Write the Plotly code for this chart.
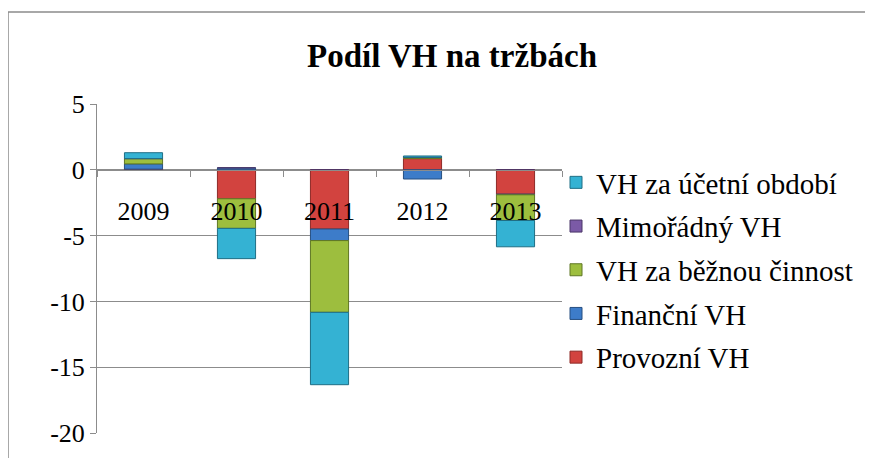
import plotly.graph_objects as go

years = ["2009", "2010", "2011", "2012", "2013"]
series_names = ["Provozní VH", "Finanční VH", "VH za běžnou činnost", "Mimořádný VH", "VH za účetní období"]
provozni = [0.05, -2.2, -4.5, 0.85, -1.85]
financni = [0.4, 0.15, -0.88, -0.7, -0.05]
bezna = [0.4, -2.25, -5.45, 0.1, -1.95]
mimoradny = [0.0, 0.0, 0.0, 0.0, 0.0]
ucetni = [0.45, -2.3, -5.5, 0.1, -2.0]
y_ticks = [5, 0, -5, -10, -15, -20]
y_ticktext = ["5", "0", "-5", "-10", "-15", "-20"]

colors = ["#D2433F", "#3D7CC9", "#9DBE3E", "#7B5AA6", "#34B2D3"]
lines = ["#8E2A27", "#274F80", "#5F7724", "#4B3668", "#1F6E85"]
values = [provozni, financni, bezna, mimoradny, ucetni]

FONT = "Liberation Serif"

# page has an 8px body margin: figure origin sits at (8, 8)
L, T, PW, PH = 89, 96, 465, 329

fig = go.Figure()
n = len(series_names)
for i, (name, vals, c, lc) in enumerate(zip(series_names, values, colors, lines)):
    fig.add_trace(go.Bar(
        x=years, y=vals, name=name, legendgroup=name, legendrank=n - i,
        marker=dict(color=c, line=dict(color=lc, width=1)),
    ))

fig.update_layout(
    width=873, height=458,
    margin=dict(l=L, r=873 - L - PW, t=T, b=458 - T - PH, autoexpand=False),
    barmode="relative",
    bargap=0.59,
    paper_bgcolor="white",
    plot_bgcolor="white",
    font=dict(family=FONT, color="black"),
    title=dict(text="<b>Podíl VH na tržbách</b>", x=(452 - 8) / 873, xanchor="center",
               y=1 - (55 - 8) / 458, yanchor="middle", font=dict(size=33, family=FONT)),
    legend=dict(x=(556 - 8 - L) / PW, y=(T + PH - (157 - 8)) / PH, xanchor="left", yanchor="top",
                traceorder="grouped", tracegroupgap=3,
                font=dict(size=29, family=FONT), bgcolor="rgba(0,0,0,0)"),
    xaxis=dict(anchor="free", position=0.8, showline=True, linecolor="#8C8C8C", linewidth=1,
               ticks="outside", tickson="boundaries", ticklen=6, tickcolor="#8C8C8C",
               ticklabelstandoff=18, tickfont=dict(size=26, family=FONT), showgrid=False),
    yaxis=dict(range=[-20, 5], tickvals=y_ticks, ticktext=y_ticktext, showline=True,
               linecolor="#8C8C8C", linewidth=1,
               ticks="outside", ticklen=6, tickcolor="#8C8C8C", gridcolor="#8C8C8C", gridwidth=1,
               zeroline=False, tickfont=dict(size=26, family=FONT)),
    shapes=[dict(type="rect", xref="paper", yref="paper",
                 x0=(0 - L) / PW, x1=(890 - L) / PW,
                 y0=(T + PH - 480) / PH, y1=(T + PH - 4) / PH,
                 line=dict(color="#8C8C8C", width=1.5), fillcolor="rgba(0,0,0,0)", layer="below")],
)

fig.write_html("out.html")
